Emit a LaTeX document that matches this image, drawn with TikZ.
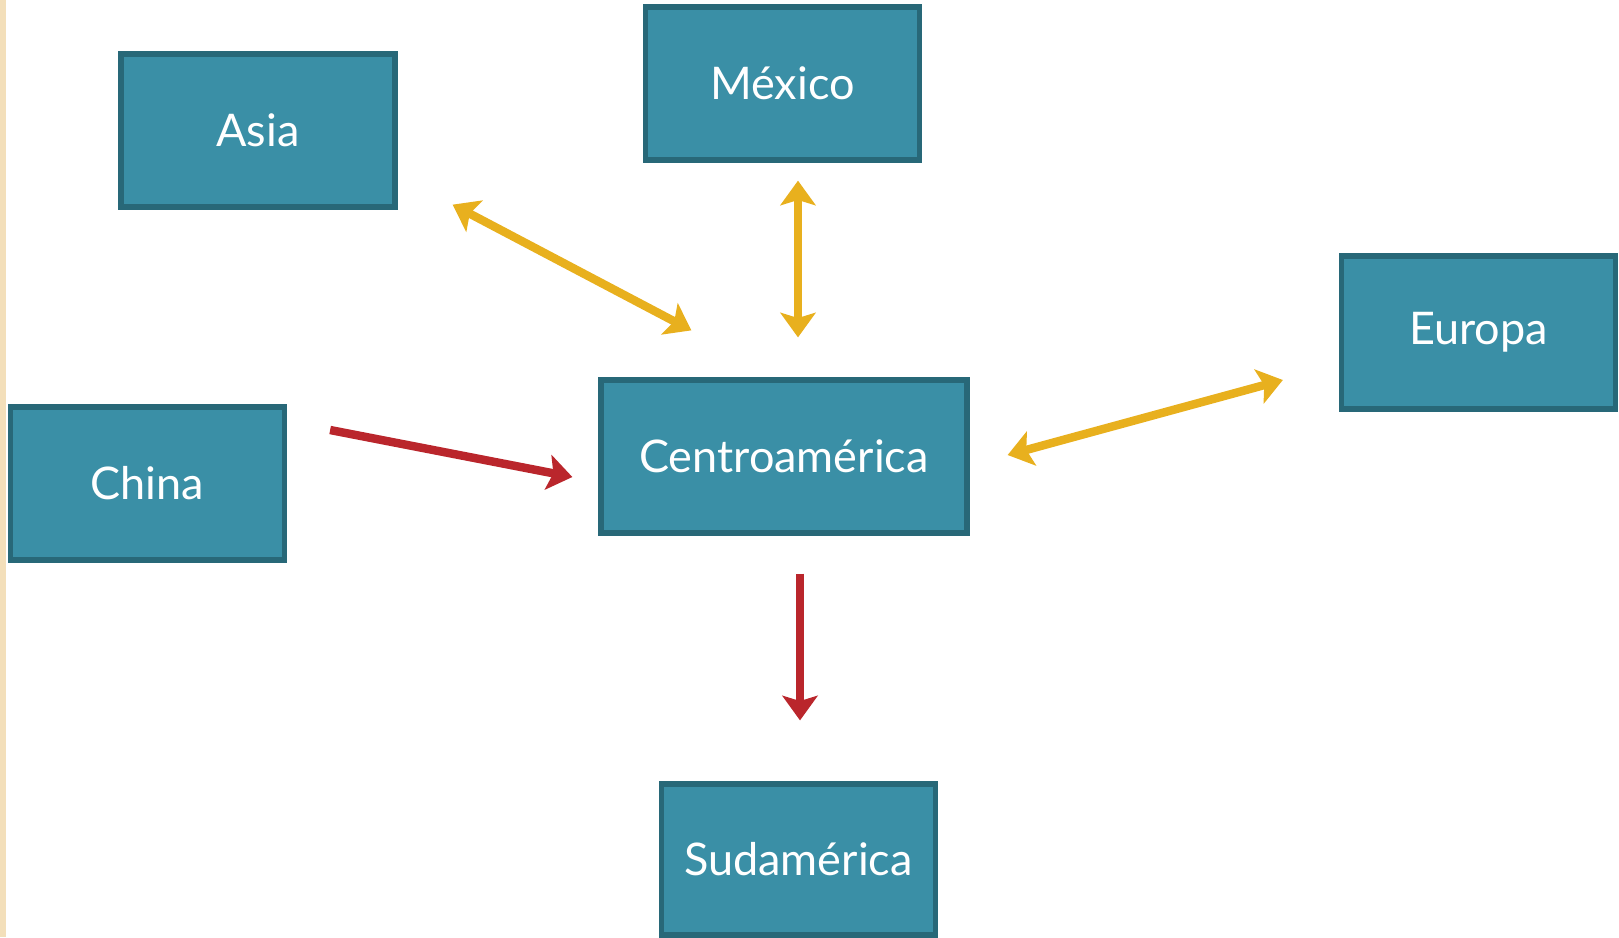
\documentclass[tikz,border=0pt]{standalone}
\usepackage{fontspec}
\setmainfont{Lato}
\usepackage{tikz}
\usetikzlibrary{arrows.meta}
\definecolor{boxfill}{RGB}{58,143,166}
\definecolor{boxline}{RGB}{40,104,120}
\definecolor{gold}{RGB}{232,176,30}
\definecolor{darkred}{RGB}{186,38,44}
\definecolor{beige}{RGB}{243,223,186}

\begin{document}
\begin{tikzpicture}[
		region/.style={draw=boxline, line width=1.5pt, fill=boxfill, text=white,
			minimum width=2.74cm, minimum height=1.53cm, inner sep=0pt,
			font=\fontsize{12.8}{15}\selectfont},
		trade/.style={line width=2.4pt, -{Stealth[length=7pt, width=10pt, inset=1.5pt]}},
		both/.style={trade, {Stealth[length=7pt, width=10pt, inset=1.5pt]}-{Stealth[length=7pt, width=10pt, inset=1.5pt]}}
	]
	\useasboundingbox (0, 0) rectangle (16.19, -9.37);
	\fill[beige] (0, 0) rectangle (0.06, -9.37);
	% regions
	\node[region] (asia) at (2.58, -1.305) {Asia};
	\node[region] (mexico) at (7.825, -0.835) {México};
	\node[region] (europa) at (14.785, -3.325) {\raisebox{-1pt}{Europa}};
	\node[region] (china) at (1.475, -4.835) {China};
	\node[region, minimum width=3.66cm] (centro) at (7.84, -4.565) {Centroamérica};
	\node[region, minimum height=1.51cm] (sud) at (7.985, -8.595) {Sudamérica};
	% two-way trade
	\draw[both, gold] ([shift={(0.55, 0.05)}]asia.south east) -- ([shift={(0.93, 0.47)}]centro.north west);
	\draw[both, gold] ([shift={(0.155, -0.18)}]mexico.south) -- ([shift={(0.14, 0.40)}]centro.north);
	\draw[both, gold] ([shift={(-0.56, -0.475)}]europa.west) -- ([shift={(0.38, 0.015)}]centro.east);
	% one-way trade
	\draw[trade, darkred] ([shift={(0.43, 0.535)}]china.east) -- ([shift={(-0.26, -0.205)}]centro.west);
	\draw[trade, darkred] ([shift={(0.16, -0.38)}]centro.south) -- ([shift={(0.015, 0.61)}]sud.north);
\end{tikzpicture}
\end{document}
